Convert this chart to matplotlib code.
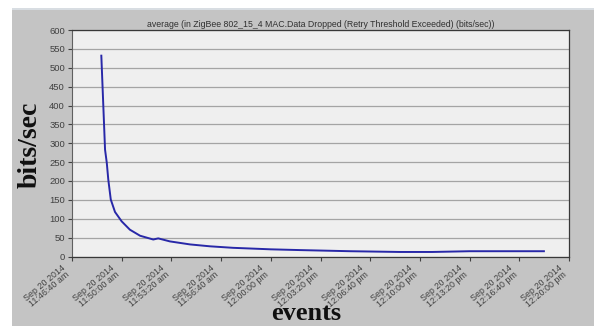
import numpy as np
import matplotlib
matplotlib.use('Agg')
import matplotlib.pyplot as plt
from matplotlib.patches import Rectangle

###############################################################################
# Data: MAC data dropped (retry threshold exceeded), averaged, bits/sec
###############################################################################
# seconds after Sep 20 2014 11:46:40 am
t_sec = [118, 133, 140, 146, 156, 173, 200, 233, 274, 327, 347, 394,
         475, 555, 648, 800, 917, 1119, 1320, 1450, 1601, 1750, 1899]
bits_per_sec = [532, 283, 248, 204, 151, 118, 93, 71, 55, 45, 48, 40,
                32, 27, 23, 19, 17, 14, 12, 12, 14, 14, 14]

tick_sec = [0, 200, 400, 600, 800, 1000, 1200, 1400, 1600, 1800, 2000]
tick_labels = ['Sep 20 2014\n11:46:40 am', 'Sep 20 2014\n11:50:00 am',
               'Sep 20 2014\n11:53:20 am', 'Sep 20 2014\n11:56:40 am',
               'Sep 20 2014\n12:00:00 pm', 'Sep 20 2014\n12:03:20 pm',
               'Sep 20 2014\n12:06:40 pm', 'Sep 20 2014\n12:10:00 pm',
               'Sep 20 2014\n12:13:20 pm', 'Sep 20 2014\n12:16:40 pm',
               'Sep 20 2014\n12:20:00 pm']
y_ticks = list(range(0, 601, 50))

title = 'average (in ZigBee 802_15_4 MAC.Data Dropped (Retry Threshold Exceeded) (bits/sec))'

###############################################################################
W, H = 594, 326
fig = plt.figure(figsize=(W / 100, H / 100), dpi=100)
fig.patch.set_facecolor('white')

# gray panel behind the chart
fig.patches.append(Rectangle((12 / W, 0), 1 - 12 / W, (H - 8) / H,
                             transform=fig.transFigure, facecolor='#c4c4c4',
                             edgecolor='none', zorder=-5))
fig.patches.append(Rectangle((12 / W, (H - 10) / H), 1 - 12 / W, 2 / H,
                             transform=fig.transFigure, facecolor='#d8dde2',
                             edgecolor='none', zorder=-4))

ax = fig.add_axes([72 / W, (H - 256.5) / H, (569 - 72) / W, (256.5 - 30) / H])
ax.set_facecolor('#efefef')

ax.plot(t_sec, bits_per_sec, color='#2828a8', lw=1.4, zorder=3,
        solid_joinstyle='round')

ax.set_xlim(0, 2000)
ax.set_ylim(0, 600)
ax.set_yticks(y_ticks)
ax.set_xticks(tick_sec)
ax.set_xticklabels(tick_labels, rotation=40, ha='right', va='top',
                   ma='center', fontsize=6.4, color='#404040',
                   family='Liberation Sans', linespacing=0.9)
for lab in ax.get_yticklabels():
    lab.set_fontsize(6.8)
    lab.set_color('#404040')
    lab.set_family('Liberation Sans')

ax.yaxis.grid(True, color='#a4a4a4', lw=0.9)
ax.set_axisbelow(True)
ax.tick_params(axis='both', direction='out', length=3, width=0.8,
               color='#404040', pad=2)

for side in ['top', 'right', 'bottom']:
    ax.spines[side].set_color('#383838')
    ax.spines[side].set_linewidth(0.9)
ax.spines['left'].set_color('#606060')
ax.spines['left'].set_linewidth(0.8)

ax.set_title(title, fontsize=6.3, color='#303030', family='Liberation Sans',
             pad=2)

# big axis labels
fig.text(30 / W, 1 - 145 / H, 'bits/sec', rotation=90, ha='center',
         va='center', fontsize=20, fontweight='bold',
         family='Liberation Serif', color='#101010')
fig.text(306 / W, 1 - 314 / H, 'events', ha='center', va='center',
         fontsize=19, fontweight='bold', family='Liberation Serif',
         color='#101010')

fig.savefig('out.png', dpi=100, facecolor=fig.get_facecolor())
